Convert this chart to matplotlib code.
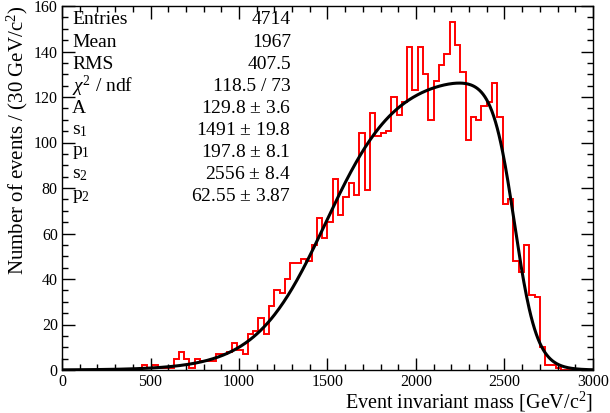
import numpy as np
import matplotlib
matplotlib.use("Agg")
import matplotlib.pyplot as plt
from matplotlib.ticker import MultipleLocator

# ---- data ----
bin_width = 30
x_min, x_max = 0, 3000
counts = [0] * 15 + [
    2, 1, 2, 1, 1, 1,                                  # 15-20
    5, 8, 5, 1, 5, 4, 4, 4, 7, 7,                      # 21-30
    8, 12, 9, 7, 16, 17, 23, 16, 28, 35,               # 31-40
    34, 40, 47, 47, 49, 48, 55, 67, 58, 65,            # 41-50
    84, 68, 76, 82, 77, 104, 79, 113, 103, 104,        # 51-60
    105, 120, 112, 118, 142, 123, 142, 130, 110, 127,  # 61-70
    134, 139, 153, 143, 131, 101, 111, 110, 116, 118,  # 71-80
    126, 111, 73, 75, 48, 43, 55, 33, 32, 10,          # 81-90
    2, 2, 1, 0, 0, 0, 0, 0, 0,                         # 91-99
]

# fit parameters
fit_A, fit_s1, fit_p1, fit_s2, fit_p2 = 129.8, 1491.0, 197.8, 2556.0, 62.55

stat_names = ["Entries", "Mean", "RMS", r"$\chi^{2}$ / ndf", "A",
              r"s$_{1}$", r"p$_{1}$", r"s$_{2}$", r"p$_{2}$"]
stat_values = ["4714", "1967", "407.5", "118.5 / 73", "129.8 $\\pm$ 3.6",
               "1491 $\\pm$ 19.8", "197.8 $\\pm$ 8.1", "2556 $\\pm$ 8.4",
               "62.55 $\\pm$ 3.87"]

x_label = r"Event invariant mass [GeV/c$^{2}$]"
y_label = r"Number of events / (30 GeV/c$^{2}$)"

# ---- plot ----
plt.rcParams['font.family'] = ['Liberation Serif', 'DejaVu Serif']
plt.rcParams['mathtext.fontset'] = 'custom'
plt.rcParams['mathtext.rm'] = 'Liberation Serif'
plt.rcParams['mathtext.it'] = 'Liberation Serif:italic'

W, H = 610, 413
fig = plt.figure(figsize=(W / 100, H / 100), dpi=100)
ax = fig.add_axes([62 / W, (H - 370) / H, (593 - 62) / W, (370 - 6) / H])

edges = np.arange(x_min, x_max + bin_width, bin_width)
ax.stairs(counts, edges, color='red', linewidth=1.4, baseline=None)

xf = np.linspace(x_min, x_max, 600)
yf = fit_A / ((1 + np.exp(-(xf - fit_s1) / fit_p1)) * (1 + np.exp((xf - fit_s2) / fit_p2)))
ax.plot(xf, yf, color='black', linewidth=2.2)

ax.set_xlim(x_min, x_max)
ax.set_ylim(0, 160)
ax.xaxis.set_major_locator(MultipleLocator(500))
ax.xaxis.set_minor_locator(MultipleLocator(100))
ax.yaxis.set_major_locator(MultipleLocator(20))
ax.yaxis.set_minor_locator(MultipleLocator(5))
ax.tick_params(which='both', direction='in', top=True, right=True, labelsize=11.5,
               width=1.0)
ax.tick_params(which='major', length=9)
ax.tick_params(which='minor', length=4.5)
ax.tick_params(axis='x', pad=3)
ax.tick_params(axis='y', pad=3)
for sp in ax.spines.values():
    sp.set_linewidth(1.0)

ax.set_xlabel(x_label, fontsize=14.5, loc='right', labelpad=-0.5)
ax.set_ylabel(y_label, fontsize=15, loc='top', labelpad=3)

# stats box
row0 = 20
dy = 22.1
for i, (n, v) in enumerate(zip(stat_names, stat_values)):
    yy = 1 - (row0 + i * dy) / H
    fig.text(72 / W, yy, n, fontsize=14, ha='left', va='center')
    fig.text(291 / W, yy, v, fontsize=14, ha='right', va='center')

fig.savefig("out.png", dpi=100)
